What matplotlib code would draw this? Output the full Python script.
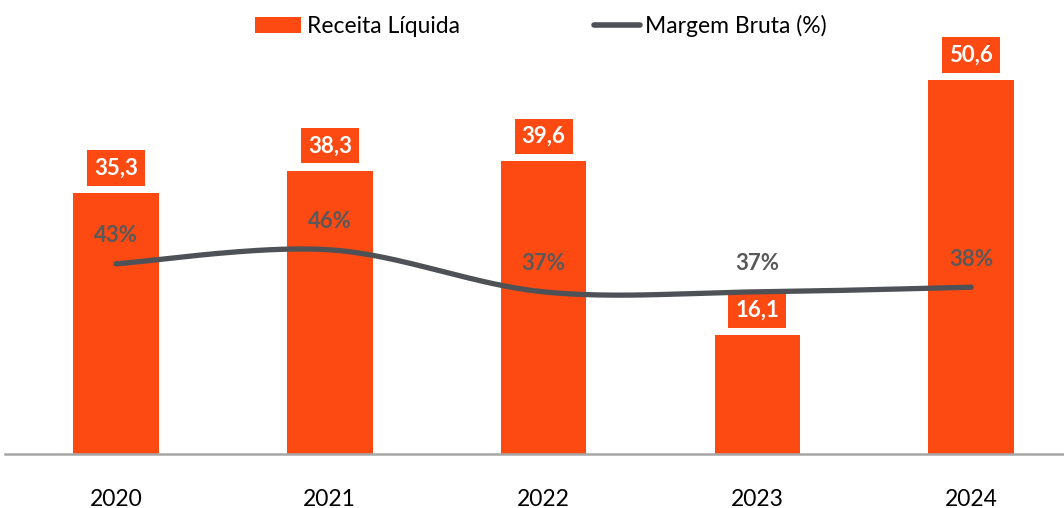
import numpy as np
import matplotlib
matplotlib.use("Agg")
import matplotlib.pyplot as plt
from matplotlib.patches import Patch
from matplotlib.lines import Line2D

plt.rcParams['font.family'] = ['Lato', 'DejaVu Sans']

years = ["2020", "2021", "2022", "2023", "2024"]
receita = [35.3, 38.3, 39.6, 16.1, 50.6]
receita_labels = ["35,3", "38,3", "39,6", "16,1", "50,6"]
margem = [43, 46, 37, 37, 38]
margem_labels = ["43%", "46%", "37%", "37%", "38%"]

ORANGE = "#FC4A12"
LINE = "#4E5257"
PCT = "#595959"

W, H = 1064, 508
fig = plt.figure(figsize=(W / 100, H / 100), dpi=100)
ax = fig.add_axes([5 / W, (H - 454) / H, 1059 / W, 414 / H])
ax2 = ax.twinx()

x = np.arange(len(years))
ax.bar(x, receita, width=0.40, color=ORANGE, zorder=2)
ax.set_xlim(-0.519, 4.434)
ax.set_ylim(0, 56.0)
ax2.set_ylim(2.3, 90.9)

for i, (v, lab) in enumerate(zip(receita, receita_labels)):
    ax.annotate(lab, (x[i], v), xytext=(0, 25), textcoords='offset pixels',
                ha='center', va='center', color='white', fontsize=16, fontweight='bold',
                bbox=dict(boxstyle='square,pad=0.32', facecolor=ORANGE, edgecolor='none'),
                zorder=5)

# Excel-like smoothed line (Catmull-Rom bezier)
def smooth(xs, ys, n=40):
    xs = np.asarray(xs, float); ys = np.asarray(ys, float)
    P = np.column_stack([xs, ys])
    Pext = np.vstack([P[0], P, P[-1]])
    out = []
    for i in range(len(P) - 1):
        p0, p1, p2, p3 = Pext[i], Pext[i + 1], Pext[i + 2], Pext[i + 3]
        c1 = p1 + (p2 - p0) / 6.0
        c2 = p2 - (p3 - p1) / 6.0
        t = np.linspace(0, 1, n)[:, None]
        seg = (1 - t) ** 3 * p1 + 3 * (1 - t) ** 2 * t * c1 + 3 * (1 - t) * t ** 2 * c2 + t ** 3 * p2
        out.append(seg if i == 0 else seg[1:])
    return np.vstack(out)

curve = smooth(x, margem)
ax2.plot(curve[:, 0], curve[:, 1], color=LINE, lw=3.8, solid_capstyle='round', zorder=3)

for i, (v, lab) in enumerate(zip(margem, margem_labels)):
    ax2.annotate(lab, (x[i], v), xytext=(0, 28), textcoords='offset pixels',
                 ha='center', va='center', color=PCT, fontsize=16, fontweight='bold')

for a in (ax, ax2):
    for s in a.spines.values():
        s.set_visible(False)
    a.set_yticks([])
ax.spines['bottom'].set_visible(True)
ax.spines['bottom'].set_color('#A6A6A6')
ax.spines['bottom'].set_linewidth(1.8)
ax.set_xticks(x)
ax.set_xticklabels(years, fontsize=16.5, color='black')
ax.tick_params(axis='x', length=0, pad=25)

handles = [Patch(facecolor=ORANGE, edgecolor='none', label='Receita Líquida'),
           Line2D([0], [0], color=LINE, lw=4, solid_capstyle='round', label='Margem Bruta (%)')]
fig.legend(handles=handles, loc='center', bbox_to_anchor=(541 / W, 1 - 26 / H), ncol=2,
           frameon=False, fontsize=16.5, handlelength=2.0, handletextpad=0.25, columnspacing=5.85)

fig.savefig("out.png", dpi=100)
